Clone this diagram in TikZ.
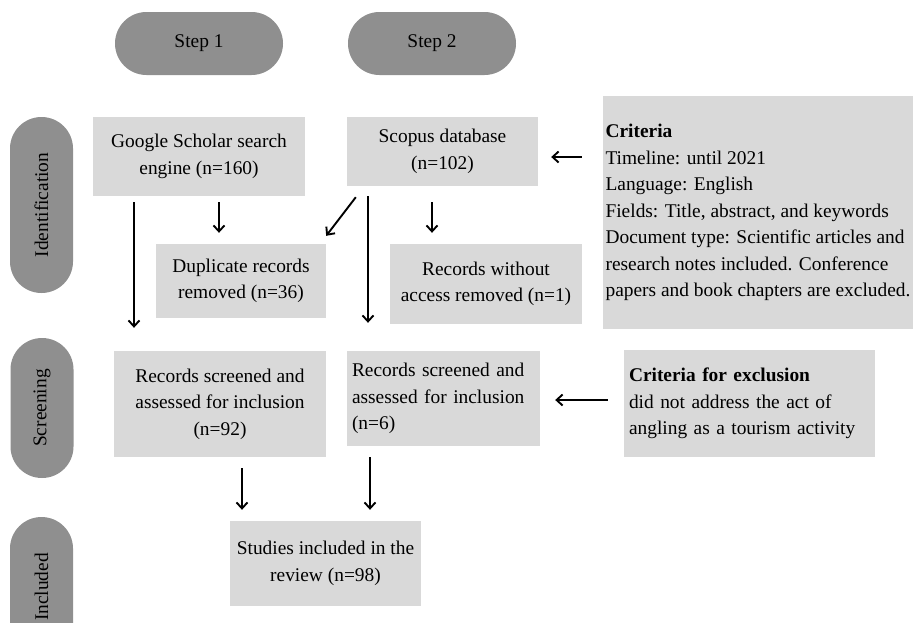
\documentclass[tikz,border=0pt]{standalone}
\usepackage{fontspec}
\setmainfont{Liberation Serif}
\usetikzlibrary{arrows.meta,shapes.misc}
\definecolor{pillgray}{RGB}{143,143,143}
\definecolor{boxgray}{RGB}{217,217,217}
\tikzset{
  pill/.style={rounded rectangle, fill=pillgray, minimum height=63pt, inner sep=0pt},
  graybox/.style={rectangle, fill=boxgray, inner sep=0pt, align=center},
  leftbox/.style={rectangle, fill=boxgray, inner xsep=5pt, inner ysep=0pt, align=left},
  arr/.style={line width=1.9pt, -{Straight Barb[length=6pt,width=11pt]}}
}

\begin{document}
\begin{tikzpicture}[x=1pt, y=-1pt, font=\fontsize{19.4}{26.5}\selectfont]
    \clip (0,0) rectangle (914,622);
    \node[pill, minimum width=168pt] (st1) at (199,43.5) {Step 1};
    \node[pill, minimum width=168pt] (st2) at (432,43.5) {Step 2};
    \node[pill, minimum width=176pt, rotate=90] (idn) at (41.5,205) {Identification};
    \node[pill, minimum width=140pt, rotate=90] (scr) at (42,408) {Screening};
    \node[pill, minimum width=140pt, rotate=90] (inc) at (41.5,587) {Included};

    \node[graybox, minimum width=212pt, minimum height=79pt] (gs) at (199,156.5) {Google Scholar search\\engine (n=160)};
    \node[graybox, minimum width=191pt, minimum height=69pt] (sc) at (442.5,151.5) {Scopus database\\(n=102)};
    \node[graybox, minimum width=310pt, minimum height=233pt] (crit) at (758,212.5)
      [align=left] {\textbf{Criteria}\\Timeline: until 2021\\Language: English\\Fields: Title, abstract, and keywords\\Document type: Scientific articles and\\research notes included. Conference\\papers and book chapters are excluded.};
    \node[graybox, minimum width=170pt, minimum height=74pt] (dup) at (241,281) {Duplicate records\\removed (n=36)};
    \node[graybox, minimum width=192pt, minimum height=80pt] (noacc) at (486,284) {Records without\\access removed (n=1)};
    \node[graybox, minimum width=212pt, minimum height=106pt] (rs1) at (220,404) {Records screened and\\assessed for inclusion\\(n=92)};
    \node[leftbox, text width=183pt, minimum height=95pt] (rs2) at (443.5,398.5) {Records screened and\\assessed for inclusion\\(n=6)};
    \node[leftbox, text width=241pt, minimum height=107pt] (excl) at (749.5,403.5) {\textbf{Criteria for exclusion}\\did not address the act of\\angling as a tourism activity};
    \node[graybox, minimum width=191pt, minimum height=85pt] (stud) at (325.5,563.5) {Studies included in the\\review (n=98)};

    \draw[arr, shorten <=6pt, shorten >=23pt] (134,0 |- gs.south) -- (134,0 |- rs1.north);
    \draw[arr, shorten <=6pt, shorten >=11pt] (219,0 |- gs.south) -- (219,0 |- dup.north);
    \draw[arr] ([shift={(9,11)}]sc.south west) -- ([shift={(0,-8)}]dup.north east);
    \draw[arr, shorten <=10pt, shorten >=28pt] (368,0 |- sc.south) -- (368,0 |- rs2.north);
    \draw[arr, shorten <=16pt, shorten >=11pt] (432,0 |- sc.south) -- (432,0 |- noacc.north);
    \draw[arr, shorten <=21pt, shorten >=13pt] (crit.west |- 0,157) -- (sc.east |- 0,157);
    \draw[arr, shorten <=16pt, shorten >=15pt] (excl.west |- 0,400) -- (rs2.east |- 0,400);
    \draw[arr, shorten <=11pt, shorten >=11pt] (242,0 |- rs1.south) -- (242,0 |- stud.north);
    \draw[arr, shorten <=11pt, shorten >=11pt] (370,0 |- rs2.south) -- (370,0 |- stud.north);
  \end{tikzpicture}
\end{document}
